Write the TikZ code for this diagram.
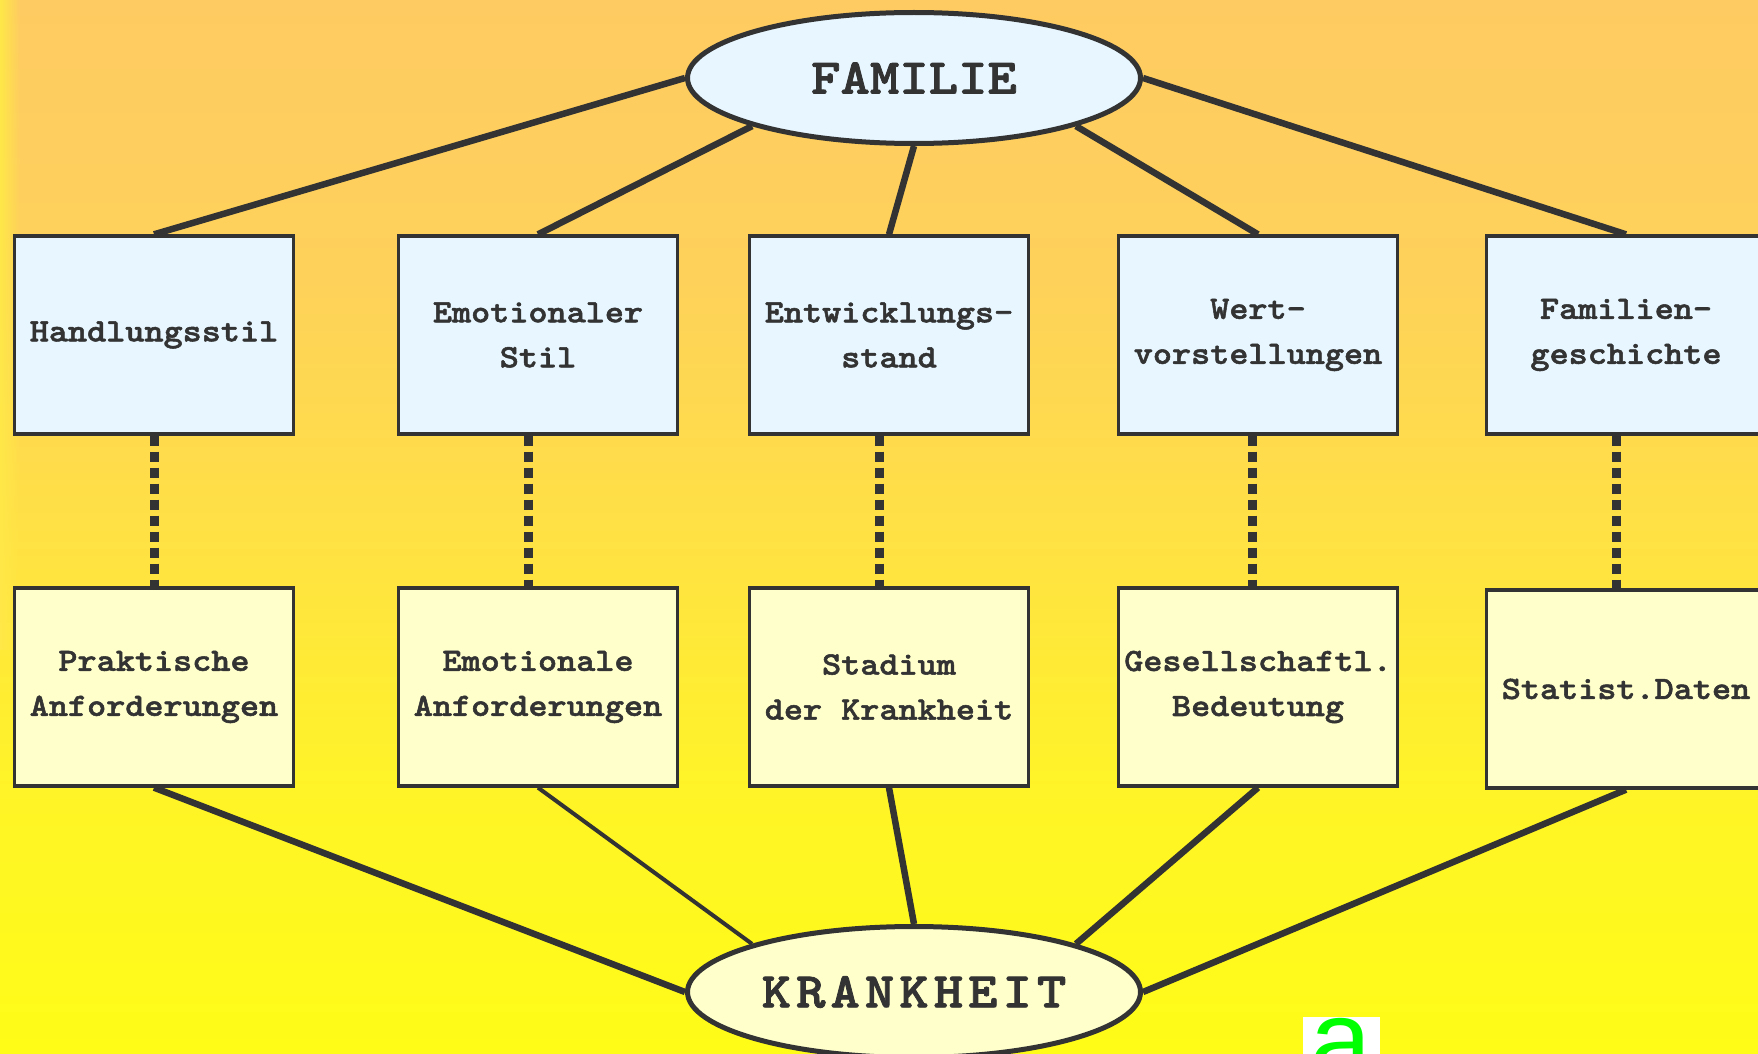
\documentclass[tikz,border=0pt]{standalone}
\usepackage{fontspec}
\newfontfamily\kastenfont{lmmonolt10-bold}[Extension=.otf, FakeStretch=1.12, FakeBold=1.6]
\newfontfamily\logofont{Liberation Sans}
\usetikzlibrary{shapes.geometric, fadings}

\definecolor{rand}{RGB}{51,51,51}
\definecolor{hellblau}{RGB}{231,246,255}
\definecolor{hellgelb}{RGB}{255,255,204}
\definecolor{gruen}{RGB}{0,255,0}
\definecolor{randgelb}{RGB}{255,232,72}

% hintergrund: oben orange, unten gelb
\pgfdeclareverticalshading{hinter}{100bp}{rgb(0bp)=(1,0.988,0.09); rgb(25bp)=(1,0.988,0.09); rgb(37bp)=(1,0.96,0.15); rgb(50bp)=(1,0.88,0.27); rgb(62bp)=(0.996,0.82,0.355); rgb(75bp)=(0.996,0.796,0.384); rgb(100bp)=(0.996,0.796,0.384)}

\begin{document}
\begin{tikzpicture}[x=1pt, y=-1pt,
  kasten/.style={draw=rand, line width=3.3pt, minimum width=279pt, minimum height=198pt, inner sep=0pt, align=center, text=rand, font=\kastenfont\fontsize{32.5}{45}\selectfont},
  oben/.style={kasten, fill=hellblau},
  unten/.style={kasten, fill=hellgelb},
  kreis/.style={ellipse, draw=rand, line width=5pt, minimum width=453pt, minimum height=131pt, inner sep=0pt, text=rand, font=\kastenfont\fontsize{50}{60}\selectfont},
  strich/.style={rand, line width=6.5pt},
  punkte/.style={rand, line width=9pt, dash pattern=on 10pt off 6pt}]

\clip (0,0) rectangle (1758,1054);
\shade[shading=hinter] (0,0) rectangle (1758,1054);
\fill[randgelb, path fading=east] (0,0) rectangle (20,650);

% ellipsen
\node[kreis, fill=hellblau] (fam) at (914,78) {FAMILIE};
\node[kreis, fill=hellgelb] (kra) at (914,992) {\addfontfeature{LetterSpace=10}KRANKHEIT};

% obere reihe
\node[oben] (stil) at (154,335) {Handlungsstil};
\node[oben] (emo) at (538,335) {Emotionaler\\Stil};
\node[oben] (entw) at (889,335) {Entwicklungs-\\stand};
\node[oben] (wert) at (1258,335) {Wert-\\vorstellungen};
\node[oben] (gesch) at (1626,335) {Familien-\\geschichte};

% untere reihe
\node[unten] (prakt) at (154,687) {Praktische\\Anforderungen};
\node[unten] (emoanf) at (538,687) {Emotionale\\Anforderungen};
\node[unten] (stad) at (889,687) {Stadium\\der Krankheit};
\node[unten] (ges) at (1258,687) {Gesellschaftl.\\Bedeutung};
\node[unten] (stat) at (1626,689) {Statist.Daten};

\draw[strich] (fam.west) -- (stil.north);
\draw[strich] (fam.south west) -- (emo.north);
\draw[strich] (fam.south) -- (entw.north);
\draw[strich] (fam.south east) -- (wert.north);
\draw[strich] (fam.east) -- (gesch.north);

\draw[punkte] (stil.south) -- (prakt.north);
\draw[punkte] ([xshift=-10pt]emo.south) -- ([xshift=-10pt]emoanf.north);
\draw[punkte] ([xshift=-10pt]entw.south) -- ([xshift=-10pt]stad.north);
\draw[punkte] ([xshift=-6pt]wert.south) -- ([xshift=-6pt]ges.north);
\draw[punkte] ([xshift=-10pt]gesch.south) -- ([xshift=-10pt]stat.north);

\draw[strich] (prakt.south) -- (kra.west);
\draw[strich, line width=4pt] (emoanf.south) -- (kra.north west);
\draw[strich] (stad.south) -- (kra.north);
\draw[strich] (ges.south) -- (kra.north east);
\draw[strich] (stat.south) -- (kra.east);

% logo unten rechts
\fill[white] (1303,1017) rectangle (1380,1054);
\node[anchor=north, inner sep=0pt, text=gruen, font=\logofont\fontsize{110}{110}\selectfont] (logo) at (1341,1018) {a};

\end{tikzpicture}
\end{document}
